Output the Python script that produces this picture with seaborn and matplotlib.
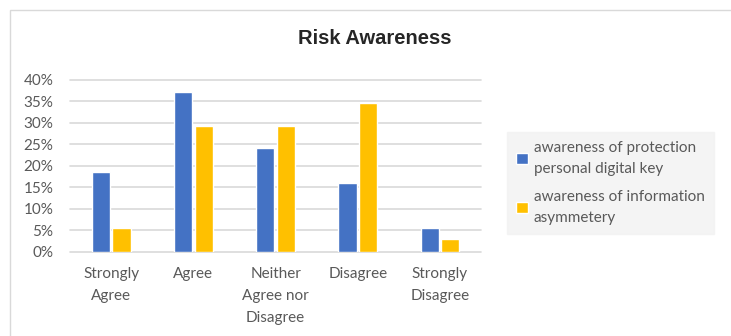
import pandas as pd
import matplotlib.pyplot as plt
import seaborn as sns
from matplotlib.patches import Rectangle

categories = ['Strongly\nAgree', 'Agree', 'Neither\nAgree nor\nDisagree', 'Disagree', 'Strongly\nDisagree']
protection = [0.186, 0.372, 0.240, 0.160, 0.054]
asymmetry = [0.054, 0.292, 0.292, 0.345, 0.029]
series_names = ['awareness of protection\npersonal digital key', 'awareness of information\nasymmetery']

df = pd.DataFrame({
    'cat': categories * 2,
    'val': protection + asymmetry,
    'series': [series_names[0]] * 5 + [series_names[1]] * 5,
})

sns.set_style('white')
plt.rcParams['font.family'] = ['Lato', 'DejaVu Sans']
grey = '#595959'

fig = plt.figure(figsize=(7.31, 3.36), dpi=100)
ax = fig.add_axes([0.096, 0.251, 0.562, 0.512])
fig.patches.append(Rectangle((0.013, -0.1), 1.2, 1.07, transform=fig.transFigure,
                             fill=False, edgecolor='#D9D9D9', lw=1))

sns.barplot(data=df, x='cat', y='val', hue='series', order=categories,
            palette=['#4472C4', '#FFC000'], saturation=1, width=0.5, gap=0.12,
            ax=ax, zorder=3)

ax.set_ylim(0, 0.4)
ax.set_xlim(-0.5, 4.5)
ax.set_yticks([i * 0.05 for i in range(9)])
ax.set_yticklabels([f'{i*5}%' for i in range(9)], color=grey, fontsize=11)
ax.set_xticks(range(5))
ax.set_xticklabels(categories, color=grey, fontsize=11, linespacing=1.75, va='top')
ax.tick_params(axis='x', pad=11, length=0)
ax.tick_params(axis='y', pad=12, length=0)
for v in ax.get_yticks():
    ax.axhline(v, color='#D9D9D9', lw=1.2, zorder=1, clip_on=False)
for s in ax.spines.values():
    s.set_visible(False)
ax.set_xlabel('')
ax.set_ylabel('')

fig.text(0.513, 0.885, 'Risk Awareness', ha='center', va='center', fontsize=14.5,
         fontweight='bold', color='#262626', family='Liberation Sans')

leg = ax.legend(loc='center left', bbox_to_anchor=(1.045, 0.40), frameon=True,
                fontsize=11, handlelength=0.75, handleheight=0.75, handletextpad=0.4,
                labelspacing=0.95, borderpad=0.6, labelcolor=grey)
for t in leg.get_texts():
    t.set_linespacing(1.6)
leg.get_frame().set_facecolor('#F2F2F2')
leg.get_frame().set_edgecolor('#F2F2F2')
leg.get_frame().set_boxstyle('square', pad=0)

fig.savefig('out.png', dpi=100)
